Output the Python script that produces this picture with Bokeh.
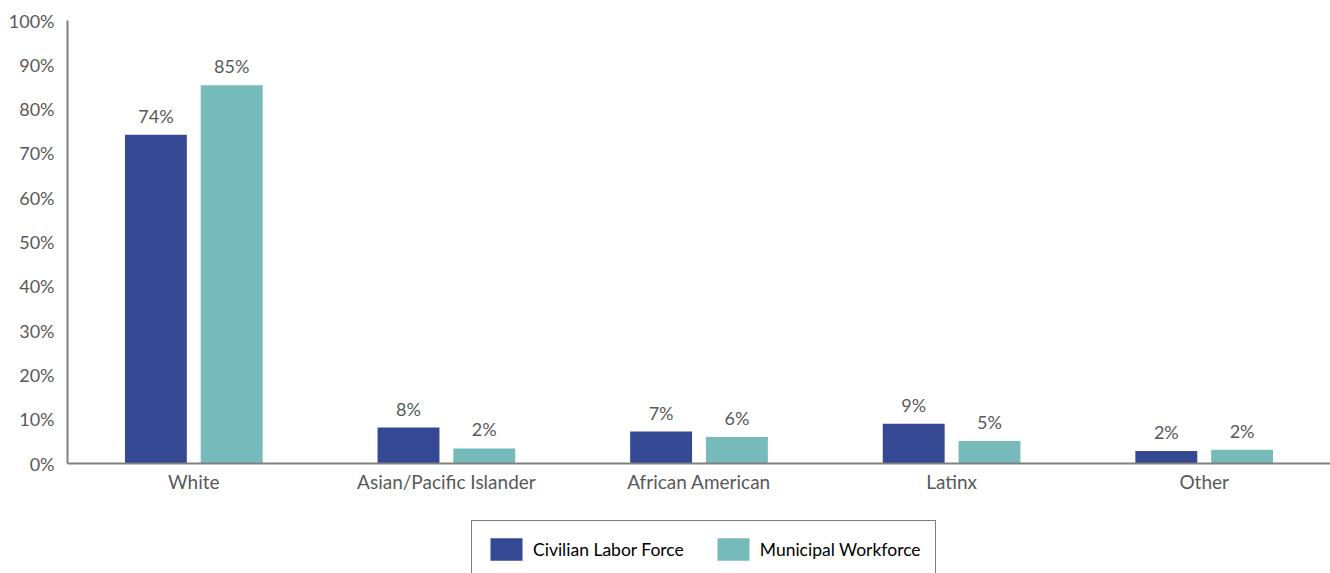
from bokeh.plotting import figure
from bokeh.layouts import column
from bokeh.models import ColumnDataSource, LabelSet, Legend, LegendItem, FactorRange, FixedTicker, CustomJSTickFormatter
from bokeh.core.properties import value
from bokeh.transform import dodge
from bokeh.embed import file_html
from bokeh.resources import INLINE

categories = ["White", "Asian/Pacific Islander", "African American", "Latinx", "Other"]
civilian = [74.2, 8.1, 7.2, 9.0, 2.8]
municipal = [85.4, 3.4, 6.0, 5.1, 3.1]
civilian_labels = ["74%", "8%", "7%", "9%", "2%"]
municipal_labels = ["85%", "2%", "6%", "5%", "2%"]
y_ticks = [0, 10, 20, 30, 40, 50, 60, 70, 80, 90, 100]
series_names = ["Civilian Labor Force", "Municipal Workforce"]

FONT = "Lato"
GRAY = "#595959"
NAVY = "#344893"
TEAL = "#76BAB9"

src = ColumnDataSource(dict(cat=categories, clf=civilian, mw=municipal,
                            clf_lab=civilian_labels, mw_lab=municipal_labels))

p = figure(x_range=FactorRange(*categories), y_range=(0, 100),
           width=1330, height=518, output_backend="svg", toolbar_location=None,
           min_border_left=67, min_border_right=0, min_border_top=20, min_border_bottom=55)
p.outline_line_color = None
p.xgrid.grid_line_color = None
p.ygrid.grid_line_color = None

p.vbar(x=dodge("cat", -0.15, range=p.x_range), top="clf", width=0.245, source=src,
       fill_color=NAVY, line_color=None)
p.vbar(x=dodge("cat", 0.15, range=p.x_range), top="mw", width=0.245, source=src,
       fill_color=TEAL, line_color=None)

for col, lab, off in (("clf", "clf_lab", -0.15), ("mw", "mw_lab", 0.15)):
    ls = LabelSet(x=dodge("cat", off, range=p.x_range), y=col, text=lab, source=src,
                  text_align="center", text_baseline="bottom", y_offset=8,
                  text_font=value(FONT), text_font_size="18px", text_color=GRAY)
    p.add_layout(ls)

for ax in (p.xaxis[0], p.yaxis[0]):
    ax.axis_line_color = "#808080"
    ax.axis_line_width = 2
    ax.major_tick_line_color = None
    ax.minor_tick_line_color = None
    ax.major_label_text_font = FONT
    ax.major_label_text_color = GRAY

p.yaxis[0].major_label_text_font_size = "18px"
p.xaxis[0].major_label_text_font_size = "19px"
p.yaxis[0].ticker = FixedTicker(ticks=y_ticks)
p.yaxis[0].formatter = CustomJSTickFormatter(code="return tick + '%';")
p.yaxis[0].major_label_standoff = 7
p.xaxis[0].major_label_standoff = 0

# legend strip below the chart
pl = figure(width=1330, height=55, output_backend="svg", toolbar_location=None,
            min_border=0, x_range=(0, 1), y_range=(0, 1))
pl.axis.visible = False
pl.grid.visible = False
pl.outline_line_color = None
g1 = pl.vbar(x=[-5], top=[-5], width=1, fill_color=NAVY, line_color=None)
g2 = pl.vbar(x=[-5], top=[-5], width=1, fill_color=TEAL, line_color=None)
legend = Legend(items=[LegendItem(label=series_names[0], renderers=[g1]),
                       LegendItem(label=series_names[1], renderers=[g2])],
                orientation="horizontal", location=(404, -5),
                border_line_color="black", border_line_width=1.5,
                label_text_font=FONT, label_text_font_size="17.5px", label_text_color="black",
                glyph_width=40, glyph_height=28, label_standoff=7, spacing=29,
                padding=14, margin=0, background_fill_alpha=1)
pl.add_layout(legend, "center")

layout = column(p, pl, spacing=0)
open("out.html", "w").write(file_html(layout, INLINE))
